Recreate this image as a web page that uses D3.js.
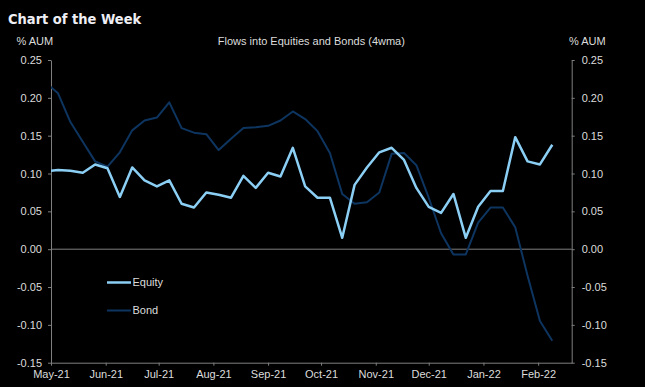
<!DOCTYPE html>
<html>
<head>
<meta charset="utf-8">
<script src="https://cdn.jsdelivr.net/npm/d3@7"></script>
<style>
  html, body { margin: 0; padding: 0; background: #000; }
  svg { display: block; }
  text { font-family: "Liberation Sans", Arial, sans-serif; }
</style>
</head>
<body>
<div id="chart"></div>
<script>
// Weekly data points (first one sits just before the axis start and gets clipped)
const firstWeek = new Date(2021, 3, 28);
const weeks = d3.range(42).map(i => d3.timeDay.offset(firstWeek, 7 * i));

const equity = [
  0.103, 0.1045, 0.1036, 0.101, 0.112, 0.107, 0.069, 0.108, 0.091, 0.083,
  0.091, 0.060, 0.055, 0.075, 0.072, 0.068, 0.097, 0.081, 0.101, 0.096,
  0.134, 0.083, 0.068, 0.068, 0.015, 0.085, 0.108, 0.128, 0.134, 0.118,
  0.081, 0.056, 0.048, 0.073, 0.015, 0.056, 0.077, 0.077, 0.148, 0.116,
  0.112, 0.138
];

const bond = [
  0.220, 0.206, 0.168, 0.142, 0.116, 0.109, 0.128, 0.157, 0.170, 0.174,
  0.194, 0.160, 0.154, 0.152, 0.131, 0.146, 0.160, 0.161, 0.163, 0.170,
  0.182, 0.172, 0.156, 0.127, 0.073, 0.060, 0.062, 0.075, 0.126, 0.127,
  0.111, 0.068, 0.021, -0.007, -0.007, 0.035, 0.055, 0.055, 0.029, -0.035,
  -0.095, -0.121
];

const yTicks = [-0.15, -0.10, -0.05, 0.00, 0.05, 0.10, 0.15, 0.20, 0.25];
const monthTicks = d3.range(10).map(m => new Date(2021, 4 + m, 1));

const seriesNames = ["Equity", "Bond"];
const seriesColors = ["#8ccff5", "#0d3560"];

const width = 645, height = 387;
const plotLeft = 51, plotRight = 571.7, plotTop = 60, plotBottom = 362.7;

const svg = d3.select("#chart")
  .append("svg")
  .attr("width", width)
  .attr("height", height);

svg.append("rect")
  .attr("width", width)
  .attr("height", height)
  .attr("fill", "#000");

const x = d3.scaleTime()
  .domain([new Date(2021, 4, 1), new Date(2022, 1, 20)])
  .range([plotLeft, plotRight]);

const y = d3.scaleLinear()
  .domain([-0.15, 0.25])
  .range([plotBottom, plotTop]);

const fmt = v => d3.format(".2f")(v).replace("−", "-");
const axisColor = "#7f7f7f";
const labelColor = "#dcdcdc";

// Titles
svg.append("text")
  .attr("x", 8)
  .attr("y", 24)
  .attr("fill", "#eeeef4")
  .style("font-family", "'Liberation Sans Narrow', 'DejaVu Sans Condensed', sans-serif")
  .style("font-weight", "bold")
  .style("font-size", "14.5px")
  .text("Chart of the Week");

svg.append("text")
  .attr("x", 16.5)
  .attr("y", 44.5)
  .attr("fill", labelColor)
  .style("font-size", "11px")
  .text("% AUM");

svg.append("text")
  .attr("x", 569)
  .attr("y", 44.5)
  .attr("fill", labelColor)
  .style("font-size", "11px")
  .text("% AUM");

svg.append("text")
  .attr("x", (plotLeft + plotRight) / 2)
  .attr("y", 44.5)
  .attr("text-anchor", "middle")
  .attr("fill", labelColor)
  .style("font-size", "11px")
  .text("Flows into Equities and Bonds (4wma)");

// Zero line
svg.append("line")
  .attr("x1", plotLeft)
  .attr("x2", plotRight)
  .attr("y1", y(0))
  .attr("y2", y(0))
  .attr("stroke", axisColor)
  .attr("stroke-width", 1);

// Axes
const styleAxis = g => {
  g.select(".domain").attr("stroke", axisColor);
  g.selectAll(".tick line").attr("stroke", axisColor);
  g.selectAll(".tick text")
    .attr("fill", labelColor)
    .style("font-size", "11px")
    .style("font-family", "'Liberation Sans', Arial, sans-serif");
};

svg.append("g")
  .attr("transform", `translate(${plotLeft},0)`)
  .call(d3.axisLeft(y).tickValues(yTicks).tickFormat(fmt).tickSize(3).tickSizeOuter(0).tickPadding(6))
  .call(styleAxis);

svg.append("g")
  .attr("transform", `translate(${plotRight},0)`)
  .call(d3.axisRight(y).tickValues(yTicks).tickFormat(fmt).tickSize(3).tickSizeOuter(0).tickPadding(7))
  .call(styleAxis);

svg.append("g")
  .attr("transform", `translate(0,${plotBottom})`)
  .call(d3.axisBottom(x).tickValues(monthTicks).tickFormat(d3.timeFormat("%b-%y")).tickSize(3).tickSizeOuter(0).tickPadding(5))
  .call(styleAxis);

// Clip lines to the plot area
svg.append("clipPath")
  .attr("id", "plot-clip")
  .append("rect")
  .attr("x", plotLeft)
  .attr("y", plotTop - 5)
  .attr("width", plotRight - plotLeft)
  .attr("height", plotBottom - plotTop + 10);

const line = d3.line()
  .x((d, i) => x(weeks[i]))
  .y(d => y(d));

const plot = svg.append("g").attr("clip-path", "url(#plot-clip)");

plot.append("path")
  .datum(bond)
  .attr("d", line)
  .attr("fill", "none")
  .attr("stroke", seriesColors[1])
  .attr("stroke-width", 2)
  .attr("stroke-linejoin", "round");

plot.append("path")
  .datum(equity)
  .attr("d", line)
  .attr("fill", "none")
  .attr("stroke", seriesColors[0])
  .attr("stroke-width", 2.5)
  .attr("stroke-linejoin", "round");

// Legend
const legend = svg.append("g")
  .attr("transform", "translate(107,282.5)");

seriesNames.forEach((name, i) => {
  const row = legend.append("g").attr("transform", `translate(0,${i * 28})`);
  row.append("line")
    .attr("x1", 0)
    .attr("x2", 24)
    .attr("stroke", seriesColors[i])
    .attr("stroke-width", i === 0 ? 2.5 : 2);
  row.append("text")
    .attr("x", 25.5)
    .attr("dy", "0.35em")
    .attr("fill", labelColor)
    .style("font-size", "11px")
    .text(name);
});
</script>
</body>
</html>
